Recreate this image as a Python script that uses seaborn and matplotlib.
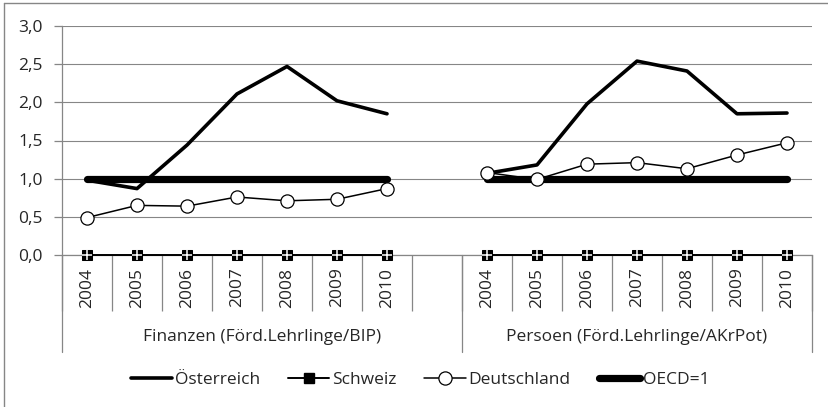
import numpy as np
import pandas as pd
import matplotlib
import matplotlib.pyplot as plt
import seaborn as sns
from matplotlib.lines import Line2D
from matplotlib.ticker import FuncFormatter

matplotlib.use("Agg")

# ── Data ───────────────────────────────────────────────────────────────────
years = ["2004", "2005", "2006", "2007", "2008", "2009", "2010"]
groups = ["Finanzen (Förd.Lehrlinge/BIP)", "Persoen (Förd.Lehrlinge/AKrPot)"]

oesterreich_fin = [0.98, 0.87, 1.44, 2.11, 2.47, 2.02, 1.85]
oesterreich_pers = [1.07, 1.18, 1.98, 2.54, 2.41, 1.85, 1.86]
schweiz_fin = [0, 0, 0, 0, 0, 0, 0]
schweiz_pers = [0, 0, 0, 0, 0, 0, 0]
deutschland_fin = [0.49, 0.65, 0.64, 0.76, 0.71, 0.73, 0.87]
deutschland_pers = [1.08, 0.99, 1.19, 1.21, 1.13, 1.31, 1.47]
oecd_fin = [1, 1, 1, 1, 1, 1, 1]
oecd_pers = [1, 1, 1, 1, 1, 1, 1]

GRAY = "#868686"
FS = 12.5

sns.set_style("white")
plt.rcParams["font.family"] = ["Open Sans", "DejaVu Sans"]

fig = plt.figure(figsize=(8.29, 4.07), dpi=100)
ax = fig.add_axes([62 / 829, 1 - 255 / 407, 750 / 829, 229 / 407])

# category positions: 7 years, one blank slot, 7 years
pos_fin = np.arange(7)
pos_pers = np.arange(8, 15)

series = [
    ("OECD=1", oecd_fin, oecd_pers,
     dict(color="black", linewidth=5.2, solid_capstyle="round", zorder=2)),
    ("Schweiz", schweiz_fin, schweiz_pers,
     dict(color="black", linewidth=1.4, marker="s", markersize=7.8,
          markerfacecolor="black", markeredgecolor="black", zorder=4)),
    ("Deutschland", deutschland_fin, deutschland_pers,
     dict(color="black", linewidth=1.1, marker="o", markersize=9.5,
          markerfacecolor="white", markeredgecolor="black",
          markeredgewidth=0.9, zorder=5)),
    ("Österreich", oesterreich_fin, oesterreich_pers,
     dict(color="black", linewidth=2.6, zorder=3)),
]

for name, vals_fin, vals_pers, style in series:
    for pos, vals in [(pos_fin, vals_fin), (pos_pers, vals_pers)]:
        df = pd.DataFrame({"pos": pos, "val": vals})
        sns.lineplot(data=df, x="pos", y="val", ax=ax, legend=False,
                     clip_on=False, **style)

# white cross inside the Schweiz squares
for pos, vals in [(pos_fin, schweiz_fin), (pos_pers, schweiz_pers)]:
    sns.scatterplot(x=pos, y=vals, ax=ax, marker="+", s=42, color="white",
                    linewidth=1.1, zorder=6, legend=False, clip_on=False)

# ── Axes styling ───────────────────────────────────────────────────────────
ax.set_xlim(-0.5, 14.5)
ax.set_ylim(0, 3.0)
ax.set_yticks(np.arange(0, 3.01, 0.5))
ax.yaxis.set_major_formatter(FuncFormatter(lambda v, _: f"{v:.1f}".replace(".", ",")))
ax.set_xlabel("")
ax.set_ylabel("")

ax.grid(axis="y", color=GRAY, linewidth=0.8)
ax.set_axisbelow(True)
for side in ["top", "right"]:
    ax.spines[side].set_visible(False)
for side in ["left", "bottom"]:
    ax.spines[side].set_color(GRAY)
    ax.spines[side].set_linewidth(0.9)
    ax.spines[side].set_zorder(1)

ax.tick_params(axis="y", which="major", length=5.8, color=GRAY, width=0.9,
               labelsize=FS, pad=8, left=True)

# year labels on the categories, separators between them
ax.set_xticks(list(pos_fin) + list(pos_pers))
ax.set_xticklabels(years + years, rotation=90, fontsize=FS)
ax.tick_params(axis="x", which="major", length=0, pad=9)
boundaries = [b + 0.5 for b in range(-1, 15)]
ax.set_xticks(boundaries, minor=True)
ax.tick_params(axis="x", which="minor", length=40, color=GRAY, width=0.9,
               bottom=True, direction="out")

# longer separators at group boundaries
trans = ax.get_xaxis_transform()
for b in [-0.5, 7.5, 14.5]:
    ax.plot([b, b], [0, -97 / 229], transform=trans, color=GRAY,
            linewidth=0.9, clip_on=False)

# group labels
for label, center in zip(groups, [3.5, 11]):
    ax.annotate(label, xy=(center, 0), xycoords=trans, xytext=(0, -59),
                textcoords="offset points", ha="center", va="center",
                fontsize=FS)

# ── Legend ─────────────────────────────────────────────────────────────────
handles = [
    Line2D([], [], color="black", linewidth=2.6),
    Line2D([], [], color="black", linewidth=1.4, marker="s", markersize=7.8,
           markerfacecolor="black"),
    Line2D([], [], color="black", linewidth=1.1, marker="o", markersize=9.5,
           markerfacecolor="white", markeredgewidth=0.9),
    Line2D([], [], color="black", linewidth=5.2, solid_capstyle="round"),
]
labels = ["Österreich", "Schweiz", "Deutschland", "OECD=1"]
fig.legend(handles, labels, loc="center", bbox_to_anchor=(420 / 829, 1 - 380 / 407),
           ncol=4, frameon=False, fontsize=FS, handlelength=2.4,
           handletextpad=0.15, columnspacing=1.6)

# outer chart border (top and left visible in the original)
fig.add_artist(Line2D([4 / 829, 4 / 829], [0, 1 - 3 / 407], color=GRAY,
                      linewidth=1.0, transform=fig.transFigure))
fig.add_artist(Line2D([4 / 829, 1], [1 - 3 / 407, 1 - 3 / 407], color=GRAY,
                      linewidth=1.0, transform=fig.transFigure))

fig.savefig("out.png", dpi=100)
plt.close(fig)
